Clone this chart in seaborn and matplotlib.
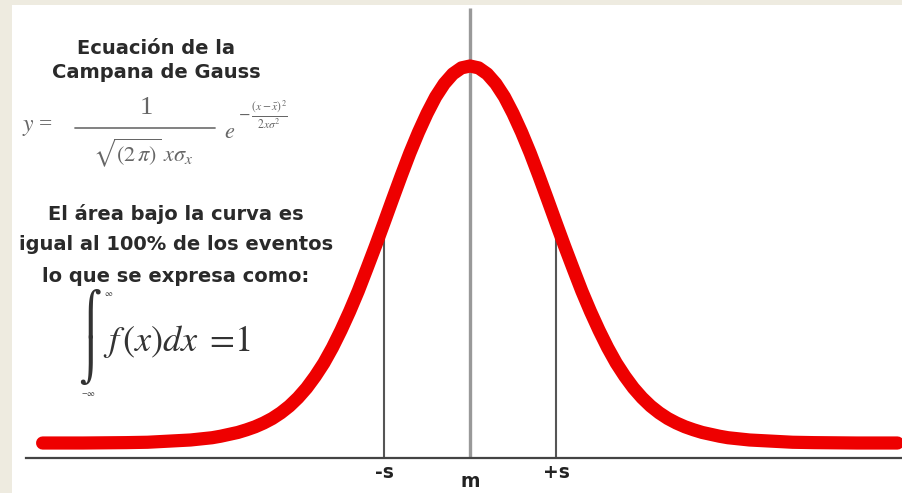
import matplotlib.pyplot as plt
import seaborn as sns
import numpy as np

# curve, in units of s (right half, the bell is symmetric)
half_x = [0.0, 0.1, 0.2, 0.3, 0.4, 0.5, 0.6, 0.7, 0.8, 0.9, 1.0, 1.1, 1.2, 1.3,
          1.4, 1.5, 1.6, 1.7, 1.8, 1.9, 2.0, 2.1, 2.2, 2.3, 2.4, 2.5, 2.6, 2.7,
          2.8, 2.9, 3.0, 3.25, 3.5, 3.75, 4.0, 4.5, 4.97]
half_y = [1.000, 0.995, 0.979, 0.953, 0.918, 0.874, 0.824, 0.769, 0.709, 0.647,
          0.584, 0.522, 0.462, 0.403, 0.349, 0.299, 0.253, 0.212, 0.177, 0.146,
          0.120, 0.098, 0.080, 0.065, 0.053, 0.043, 0.035, 0.028, 0.023, 0.018,
          0.014, 0.008, 0.005, 0.002, 0.001, 0.0, 0.0]

ref_x = [-1, 0, 1]
ref_labels = ["-s", "m", "+s"]

title_lines = ["Ecuación de la", "Campana de Gauss"]
note_lines = ["El área bajo la curva es",
              "igual al 100% de los eventos",
              "lo que se expresa como:"]

x = [-v for v in half_x[::-1]] + half_x[1:]
y = half_y[::-1] + half_y[1:]

sns.set_style("white")
plt.rcParams["mathtext.fontset"] = "stix"

W, H = 902, 493
fig = plt.figure(figsize=(W / 100, H / 100), dpi=100, facecolor="#eeebe0")
ax = fig.add_axes([12 / W, 0, 890 / W, 488 / H])
ax.set_facecolor("white")


def px(xp, yp):
    return xp / W, 1 - yp / H


# axis and reference lines
for s in ["top", "right", "left"]:
    ax.spines[s].set_visible(False)
ax.spines["bottom"].set_position(("data", -0.04))
ax.spines["bottom"].set_bounds(-5.16, 5.1)
ax.spines["bottom"].set_color("#444444")
ax.spines["bottom"].set_linewidth(1.6)
ax.set_xticks([])
ax.set_yticks([])

ax.vlines(0, -0.04, 1.154, color="#999999", linewidth=2.4, zorder=1)
sig_top = half_y[half_x.index(1.0)]
ax.vlines([ref_x[0], ref_x[2]], -0.04, sig_top, color="#555555", linewidth=1.5, zorder=1)

sns.lineplot(x=x, y=y, color="#ee0000", linewidth=9.5, estimator=None,
             solid_capstyle="round", ax=ax, zorder=3)

ax.set_xlim(-5.326, 5.023)
ax.set_ylim(-0.1326, 1.1618)

for xv, lab in zip(ref_x, ref_labels):
    yv = -0.103 if lab == "m" else -0.077
    ax.text(xv, yv, lab, ha="center", va="center", fontsize=13.5,
            fontweight="bold", color="#222222")

# text block on the left
bold = dict(ha="center", va="center", fontsize=14, fontweight="bold",
            family="DejaVu Sans", color="#2a2a2a", transform=fig.transFigure)
for i, line in enumerate(title_lines):
    fig.text(*px(156, 48 + 25 * i), line, **bold)
for i, line in enumerate(note_lines):
    fig.text(*px(176, 214 + 31 * i), line, **bold)

# Gauss equation
eq = dict(va="center", color="#666666", transform=fig.transFigure,
          family="Liberation Serif")
fig.text(*px(22, 128), r"$y$ =", ha="left", fontsize=17, **eq)
fig.add_artist(plt.Line2D([75 / W, 215 / W], [1 - 128 / H] * 2,
                          color="#777777", linewidth=1.3))
fig.text(*px(146, 108), "1", ha="center", fontsize=19, **eq)
fig.text(*px(143, 153), r"$\sqrt{(2\,\pi)}\;x\sigma_{x}$", ha="center",
         fontsize=16, **eq)
fig.text(*px(230, 133), r"$e$", ha="center", fontsize=16, **eq)
fig.text(*px(238, 115), r"$-\,\frac{(x-\bar{x})^2}{2x\sigma^2}$", ha="left",
         fontsize=12, **eq)

# integral, built from its top and bottom halves so it stands upright
intg = dict(va="center", color="#333333", transform=fig.transFigure)
fig.text(*px(90, 313), "\u2320", ha="center", fontsize=30,
         family="DejaVu Sans", **intg)
fig.text(*px(90, 360), "\u2321", ha="center", fontsize=30,
         family="DejaVu Sans", **intg)
fig.text(*px(109, 293), r"$\infty$", ha="center", fontsize=6, **intg)
fig.text(*px(88, 394), r"$-\infty$", ha="center", fontsize=6, **intg)
fig.text(*px(103, 341), r"$f\,(x)dx\; =\!1$", ha="left", fontsize=26, **intg)

plt.savefig("out.png", dpi=100, facecolor=fig.get_facecolor())
